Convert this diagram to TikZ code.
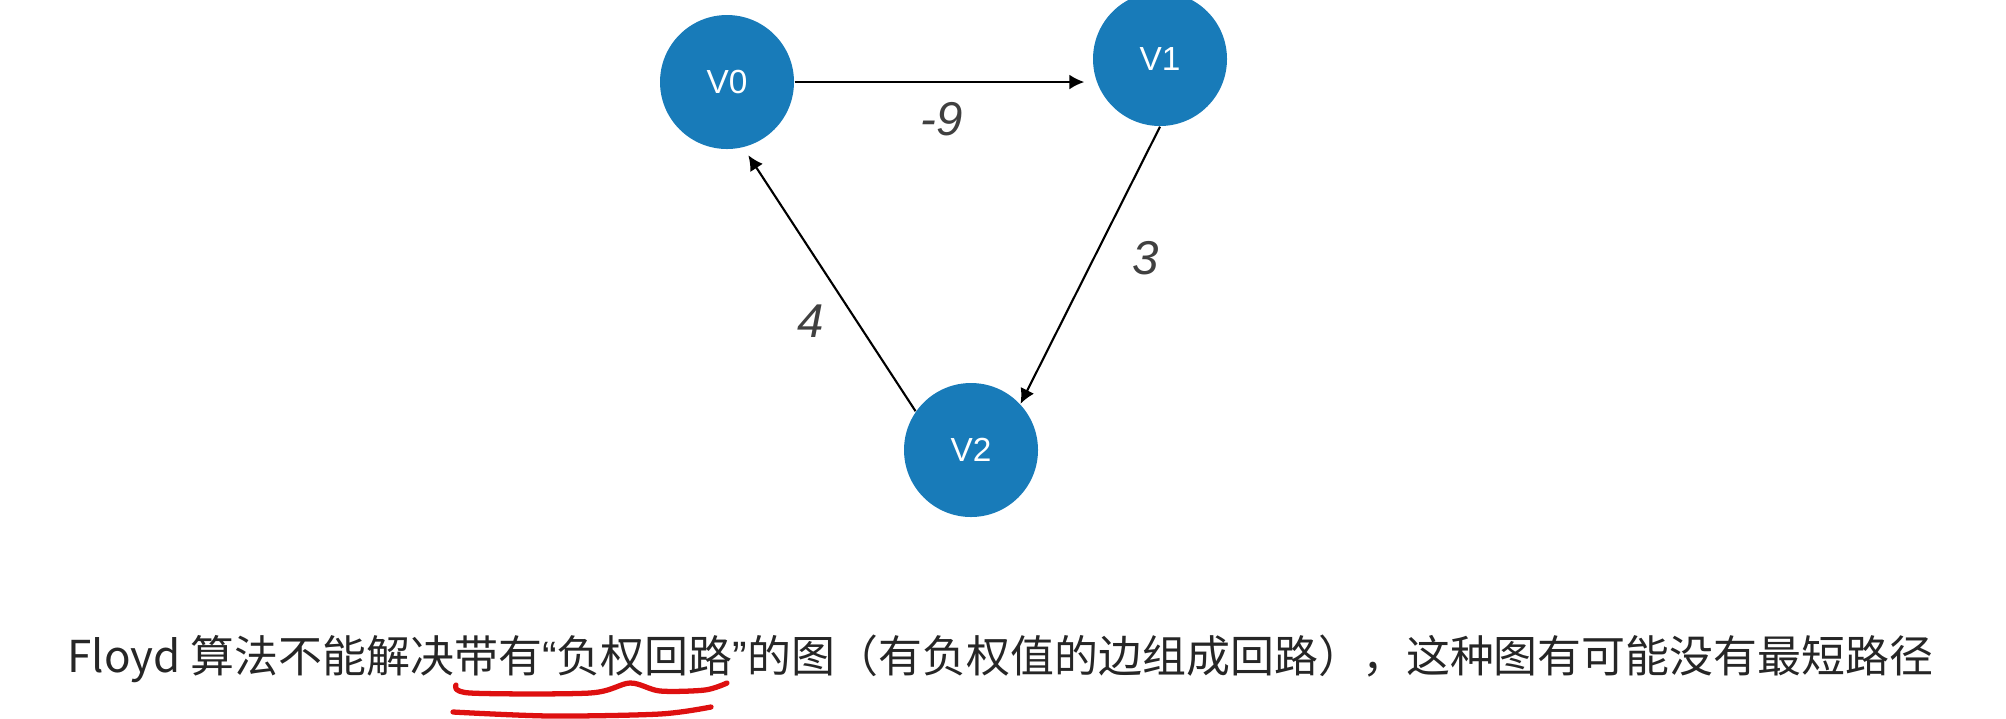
\documentclass[tikz,border=0pt]{standalone}
\usepackage{fontspec}
\setmainfont{Liberation Sans}
\newfontfamily\cjk{Noto Sans CJK SC}
\usepackage{tikz}
\usetikzlibrary{arrows.meta,positioning}
\definecolor{vblue}{RGB}{24,123,185}
\definecolor{wgray}{RGB}{64,64,64}
\definecolor{penred}{RGB}{222,16,16}
\newcommand{\openq}{{\rmfamily “}}
\newcommand{\closeq}{{\rmfamily ”}}

\begin{document}
\begin{tikzpicture}[
    vertex/.style={
        circle,
        fill=vblue,
        minimum size=1.34cm,
        inner sep=0pt,
        text=white,
        font=\fontsize{9.5}{11}\selectfont
    },
    weight/.style={
        text=wgray,
        font=\fontsize{13.5}{15}\selectfont\itshape
    },
    arr/.style={-{Latex[length=1.5mm,width=1.5mm]}, line width=0.6pt},
    penline/.style={penred, line width=1.5pt, line cap=round, line join=round}
]
    \useasboundingbox (0,0) rectangle (20.06,-7.18);

    %% Vertices
    \node[vertex] (v0) at (7.27,-0.82) {V0};
    \node[vertex] (v1) at (11.60,-0.59) {V1};
    \node[vertex] (v2) at (9.71,-4.50) {V2};

    %% Edges
    \draw[arr, shorten >=0.8mm] (v0) -- (v0 -| v1.west);
    \draw[arr] (v1.south) -- (v2.43);
    \draw[arr, shorten >=0.9mm] (v2.145) -- (v0.284);

    %% Weights
    \node[weight] (w01) at (9.42,-1.19) {-9};
    \node[weight] (w12) at (11.46,-2.58) {3};
    \node[weight] (w20) at (8.11,-3.21) {4};

    %% Note
    \node[anchor=west, inner sep=0pt, text=black!85, font=\cjk\fontsize{12.5}{14}\selectfont] (note) at (0.67,-6.59)
        {Floyd 算法不能解决带有\openq 负权回路\closeq 的图（有负权值的边组成回路），这种图有可能没有最短路径};

    %% Red underline
    \draw[penline] plot[smooth] coordinates {(4.56,-6.85) (4.70,-6.93) (5.90,-6.93) (6.30,-6.83) (6.60,-6.91) (7.05,-6.90) (7.27,-6.83)};
    \draw[penline] plot[smooth] coordinates {(4.53,-7.12) (5.50,-7.16) (6.60,-7.14) (7.11,-7.07)};
\end{tikzpicture}
\end{document}
